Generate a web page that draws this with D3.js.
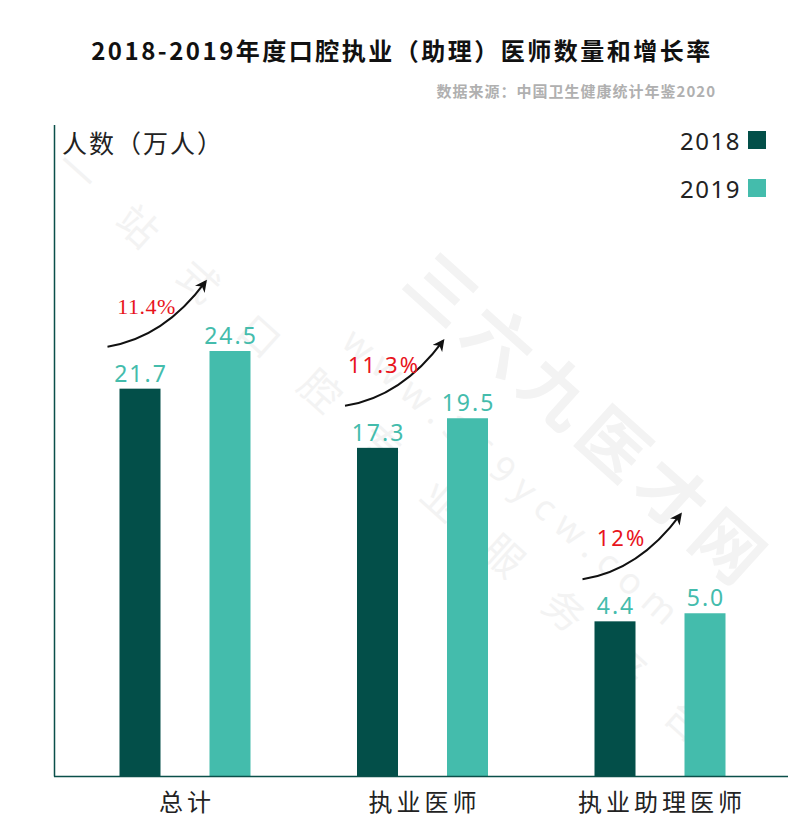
<!DOCTYPE html>
<html>
<head>
<meta charset="utf-8">
<script src="https://cdn.jsdelivr.net/npm/d3@7"></script>
<style>
  body { margin: 0; background: #fff; }
  svg { display: block; }
</style>
</head>
<body>
<svg id="chart" width="800" height="827"></svg>
<script>
const categories = ["总计", "执业医师", "执业助理医师"];
const years = ["2018", "2019"];
const values2018 = [21.7, 17.3, 4.4];
const values2019 = [24.5, 19.5, 5.0];
const growthLabels = ["11.4%", "11.3%", "12%"];

const colors = { "2018": "#034f49", "2019": "#44bcac" };
const axisColor = "#0b4f4a";

const mainSvg = d3.select("#chart");

function drawWatermark(svg) {
    const g = svg.append("g").attr("fill", "#f3f3f3");

    g.append("text")
      .attr("transform", "translate(52,169) rotate(42)")
      .attr("font-family", "Noto Sans CJK SC")
      .attr("font-size", "40px")
      .attr("letter-spacing", "42px")
      .text("一站式口腔专业服务平台")

    g.append("text")
      .attr("transform", "translate(340,345) rotate(41)")
      .attr("font-family", "Noto Sans")
      .attr("font-size", "36px")
      .attr("letter-spacing", "10px")
      .text("www.369ycw.com")

    g.append("text")
      .attr("transform", "translate(400,285) rotate(42)")
      .attr("font-family", "Noto Sans CJK SC")
      .attr("font-weight", "bold")
      .attr("font-size", "68px")
      .attr("letter-spacing", "9px")
      .text("三六九医才网")
}

function drawHeader(svg) {
    svg.append("text")
      .attr("x", 402)
      .attr("y", 60)
      .attr("text-anchor", "middle")
      .attr("font-family", "Noto Sans CJK SC")
      .attr("font-weight", "bold")
      .attr("font-size", "24px")
      .attr("letter-spacing", "2.5px")
      .attr("fill", "#111")
      .text("2018-2019年度口腔执业（助理）医师数量和增长率")

    svg.append("text")
      .attr("x", 716)
      .attr("y", 97)
      .attr("text-anchor", "end")
      .attr("font-family", "Noto Sans CJK SC")
      .attr("font-weight", "bold")
      .attr("font-size", "15px")
      .attr("letter-spacing", "1px")
      .attr("fill", "#b0b0b0")
      .text("数据来源：中国卫生健康统计年鉴2020")

    svg.append("text")
      .attr("x", 62)
      .attr("y", 153)
      .attr("font-family", "Noto Sans CJK SC")
      .attr("font-size", "25px")
      .attr("letter-spacing", "2px")
      .attr("fill", "#222")
      .text("人数（万人）")
}

function drawLegend(svg) {
    years.forEach((year, i) => {
        const g = svg.append("g").attr("transform", `translate(0, ${i * 48})`)
        g.append("text")
          .attr("x", 741)
          .attr("y", 150)
          .attr("text-anchor", "end")
          .attr("font-family", "Noto Sans")
          .attr("font-size", "24px")
          .attr("letter-spacing", "1.5px")
          .attr("fill", "#222")
          .text(year)
        g.append("rect")
          .attr("x", 748)
          .attr("y", 131)
          .attr("width", 18)
          .attr("height", 18)
          .attr("fill", colors[year])
    })
}

drawWatermark(mainSvg);
drawHeader(mainSvg);
drawLegend(mainSvg);

const x0 = d3.scalePoint().domain(categories).range([185, 660]);
const x1 = d3.scalePoint().domain(years).range([-45, 45]);
const y = d3.scaleLinear().domain([-7.1, 24.5]).range([776, 351]);
const barWidth = 41;

const rows = categories.map((c, i) => ({
    category: c,
    bars: [
        { year: "2018", value: values2018[i] },
        { year: "2019", value: values2019[i] }
    ],
    growth: growthLabels[i]
}));

const groups = mainSvg.selectAll("g.group")
    .data(rows)
    .enter().append("g")
    .attr("class", "group")
    .attr("transform", d => `translate(${x0(d.category)},0)`);

groups.selectAll("rect")
    .data(d => d.bars)
    .enter().append("rect")
    .attr("x", d => x1(d.year) - barWidth / 2)
    .attr("y", d => y(d.value))
    .attr("width", barWidth)
    .attr("height", d => y.range()[0] - y(d.value))
    .attr("fill", d => colors[d.year]);

groups.selectAll("text.value")
    .data(d => d.bars)
    .enter().append("text")
    .attr("class", "value")
    .attr("x", d => x1(d.year) + 1)
    .attr("y", d => y(d.value) - 7)
    .attr("text-anchor", "middle")
    .attr("font-family", "Noto Sans")
    .attr("font-size", "23px")
    .attr("letter-spacing", "2px")
    .attr("fill", colors["2019"])
    .text(d => d.value.toFixed(1));

// growth arrows
mainSvg.append("defs").append("marker")
    .attr("id", "arrowHead")
    .attr("viewBox", "0 0 10 10")
    .attr("refX", 8)
    .attr("refY", 5)
    .attr("markerWidth", 6)
    .attr("markerHeight", 6)
    .attr("orient", "auto")
    .append("path")
    .attr("d", "M0,0 L10,5 L0,10 L3,5 Z")
    .attr("fill", "#111");

groups.each(function (d, i) {
    const g = d3.select(this);
    const sx = x1("2018") - barWidth / 2 - 12;
    const sy = y(d.bars[0].value) - 42;
    const ex = x1("2019") - barWidth / 2 - 4;
    const ey = sy - 65;
    const cx = sx + 0.58 * (ex - sx);
    const cy = sy - 0.14 * (sy - ey);

    const path = d3.path();
    path.moveTo(sx, sy);
    path.quadraticCurveTo(cx, cy, ex, ey);

    g.append("path")
      .attr("d", path.toString())
      .attr("fill", "none")
      .attr("stroke", "#111")
      .attr("stroke-width", 2)
      .attr("marker-end", "url(#arrowHead)");

    g.append("text")
      .attr("x", (sx + ex) / 2 - 10)
      .attr("y", sy - 33)
      .attr("text-anchor", "middle")
      .attr("font-family", i === 0 ? "Liberation Serif" : "Noto Sans")
      .attr("font-size", "22px")
      .attr("letter-spacing", i === 0 ? "0.5px" : "2px")
      .attr("fill", "#e8141c")
      .text(d.growth);
});

// axes
mainSvg.append("line")
    .attr("x1", 54.5).attr("x2", 54.5)
    .attr("y1", 125).attr("y2", 776.5)
    .attr("stroke", axisColor)
    .attr("stroke-width", 1.5);

mainSvg.append("line")
    .attr("x1", 54).attr("x2", 788)
    .attr("y1", 776.5).attr("y2", 776.5)
    .attr("stroke", axisColor)
    .attr("stroke-width", 1.5);

mainSvg.selectAll("text.category")
    .data(categories)
    .enter().append("text")
    .attr("class", "category")
    .attr("x", d => x0(d) + 2)
    .attr("y", 811)
    .attr("text-anchor", "middle")
    .attr("font-family", "Noto Sans CJK SC")
    .attr("font-size", "24px")
    .attr("letter-spacing", "4px")
    .attr("fill", "#222")
    .text(d => d);
</script>
</body>
</html>
